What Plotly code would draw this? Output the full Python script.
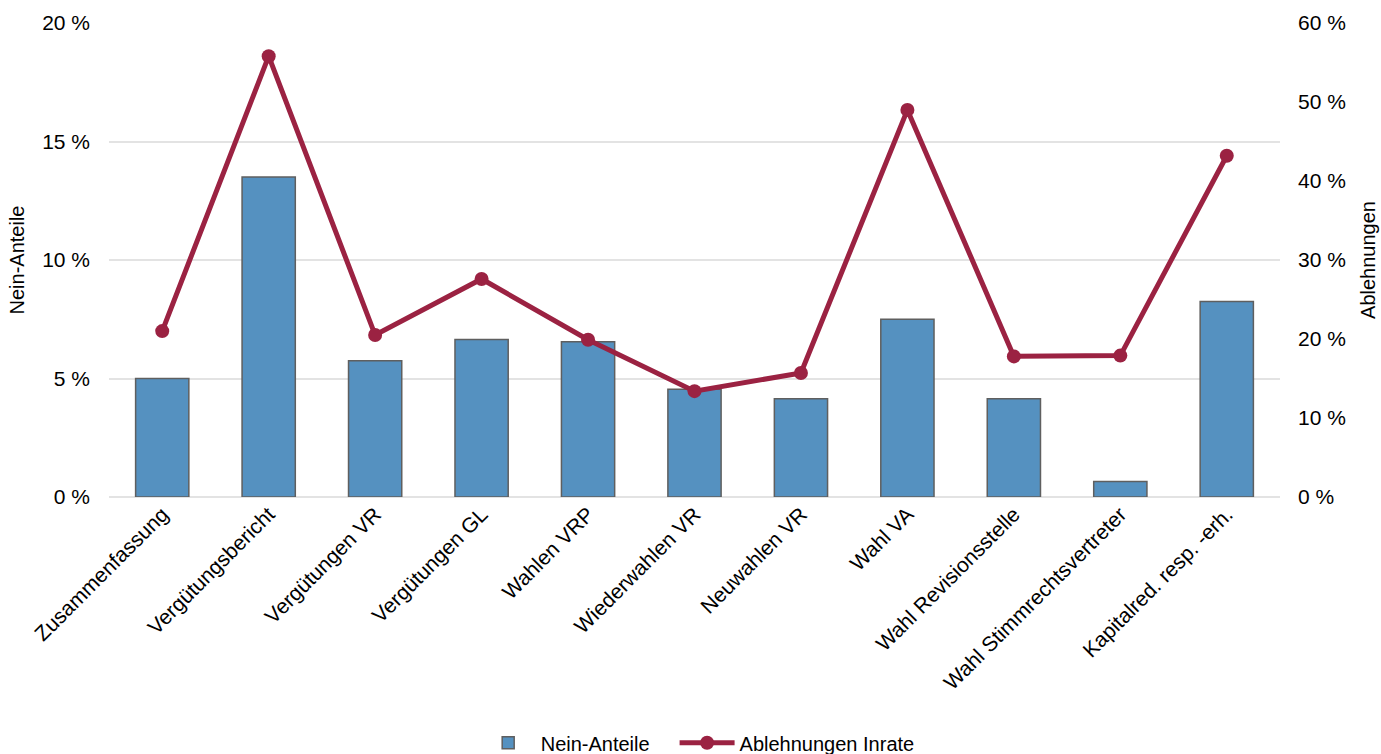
import plotly.graph_objects as go

categories = [
    "Zusammenfassung", "Vergütungsbericht", "Vergütungen VR", "Vergütungen GL",
    "Wahlen VRP", "Wiederwahlen VR", "Neuwahlen VR", "Wahl VA",
    "Wahl Revisionsstelle", "Wahl Stimmrechtsvertreter", "Kapitalred. resp. -erh.",
]
nein_anteile = [5.0, 13.5, 5.75, 6.65, 6.55, 4.55, 4.15, 7.5, 4.15, 0.65, 8.25]
ablehnungen = [21.0, 55.8, 20.5, 27.6, 19.9, 13.4, 15.7, 49.0, 17.8, 17.9, 43.2]

left_ticks = [0, 5, 10, 15, 20]
right_ticks = [0, 10, 20, 30, 40, 50, 60]

FONT = "Liberation Sans, Arial, sans-serif"
BAR_COLOR = "#5591c0"
LINE_COLOR = "#9b2242"

fig = go.Figure()
fig.add_trace(go.Bar(
    x=categories, y=nein_anteile, name="Nein-Anteile",
    marker=dict(color=BAR_COLOR, line=dict(color="#5f5f5f", width=1.5)),
    width=0.5, yaxis="y", legend="legend",
))
fig.add_trace(go.Scatter(
    x=categories, y=ablehnungen, name="Ablehnungen Inrate",
    mode="lines+markers",
    line=dict(color=LINE_COLOR, width=5),
    marker=dict(color=LINE_COLOR, size=14),
    yaxis="y2", legend="legend2",
))

legend_style = dict(
    orientation="h", yref="container", y=0.015, yanchor="middle",
    font=dict(size=20), itemwidth=55, bgcolor="rgba(0,0,0,0)",
)

fig.update_layout(
    width=1381, height=754,
    margin=dict(l=109, r=101, t=23, b=257, autoexpand=False),
    paper_bgcolor="white", plot_bgcolor="white",
    font=dict(family=FONT, size=20, color="#000000"),
    xaxis=dict(
        range=[-0.5, len(categories) - 0.5],
        tickangle=-45, showgrid=False, showline=False, ticks="",
        tickfont=dict(size=21), automargin=False,
    ),
    yaxis=dict(
        range=[0, 20], tickmode="array", tickvals=left_ticks,
        ticktext=[f"{v} %" for v in left_ticks],
        showgrid=True, gridcolor="#e3e3e3", gridwidth=1.5,
        zeroline=True, zerolinecolor="#e3e3e3", zerolinewidth=1.5,
        tickfont=dict(size=21), ticklabelstandoff=18,
        title=dict(text="Nein-Anteile", font=dict(size=20), standoff=12),
        ticks="", automargin=False,
    ),
    yaxis2=dict(
        range=[0, 60], tickmode="array", tickvals=right_ticks,
        ticktext=[f"{v} %" for v in right_ticks],
        overlaying="y", side="right", showgrid=False, zeroline=False,
        tickfont=dict(size=21), ticklabelstandoff=17,
        title=dict(text="Ablehnungen", font=dict(size=20), standoff=16),
        ticks="", automargin=False,
    ),
    legend=dict(x=0.466, xanchor="right", **legend_style),
    legend2=dict(x=0.483, xanchor="left", **legend_style),
    showlegend=True,
)

fig.write_html("out.html")
